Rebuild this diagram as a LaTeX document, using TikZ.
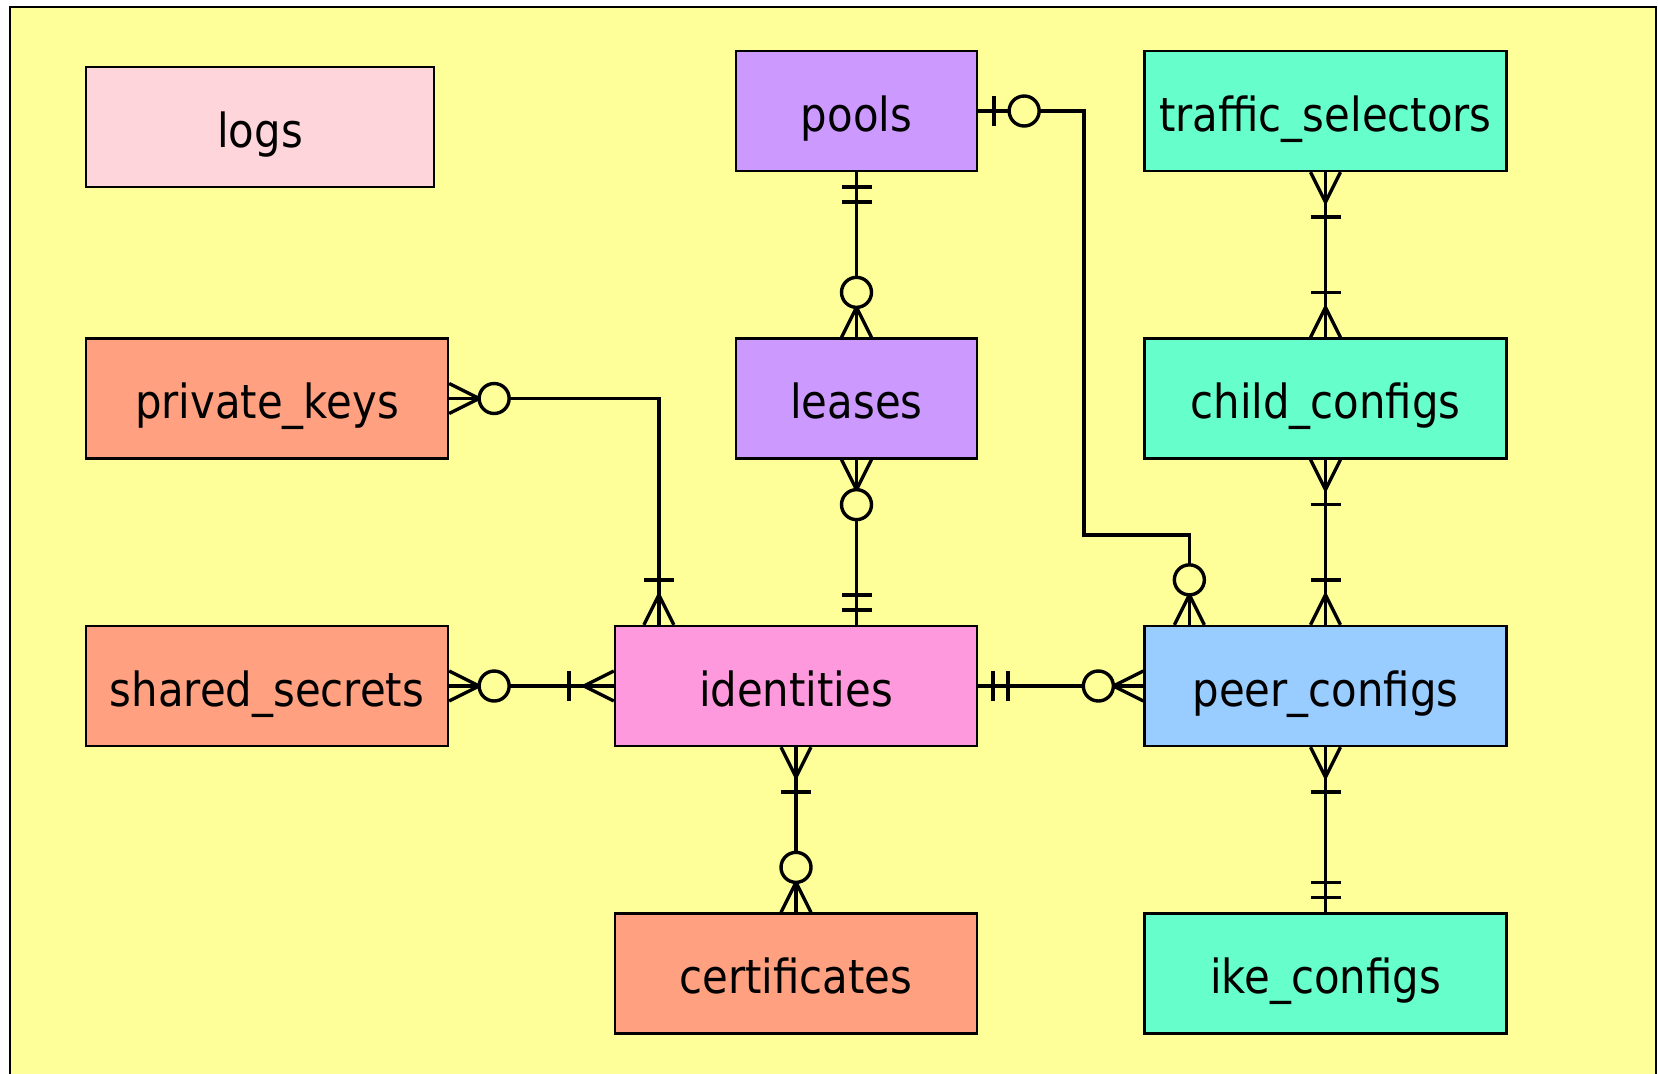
\documentclass[tikz,border=0pt]{standalone}
\usepackage{fontspec}
\setmainfont[FakeStretch=0.89]{DejaVu Sans}
\usetikzlibrary{calc}

\definecolor{bgyellow}{HTML}{FFFF99}
\definecolor{logpink}{HTML}{FFD5DC}
\definecolor{poolviolet}{HTML}{CC99FF}
\definecolor{cfggreen}{HTML}{66FFCC}
\definecolor{credsalmon}{HTML}{FFA080}
\definecolor{idpink}{HTML}{FF99DD}
\definecolor{peerblue}{HTML}{99CCFF}

\tikzset{
  entity/.style={draw=black, line width=2.3pt, inner sep=0pt,
    minimum height=120pt, text height=44pt, text depth=4pt,
    font=\fontsize{47}{50}\selectfont},
  narrowbox/.style={entity, minimum width=241pt},
  widebox/.style={entity, minimum width=362pt},
  conn/.style={line width=3.4pt, draw=black},
}

% Crow's-foot end marks: #1 = point on the box edge, #2 = direction pointing away from the box
\newcommand{\zeromany}[2]{%
  \begin{scope}[shift={(#1)}, rotate=#2]
    \draw[conn] (0,15) -- (30,0) -- (0,-15);
    \draw[conn, fill=bgyellow] (45,0) circle[radius=15pt];
  \end{scope}}
\newcommand{\onemany}[2]{%
  \begin{scope}[shift={(#1)}, rotate=#2]
    \draw[conn] (0,15) -- (30,0) -- (0,-15);
    \draw[conn] (45,15) -- (45,-15);
  \end{scope}}
\newcommand{\mandone}[2]{%
  \begin{scope}[shift={(#1)}, rotate=#2]
    \draw[conn] (15,15) -- (15,-15);
    \draw[conn] (30,15) -- (30,-15);
  \end{scope}}
\newcommand{\zeroone}[2]{%
  \begin{scope}[shift={(#1)}, rotate=#2]
    \draw[conn] (16,15) -- (16,-15);
    \draw[conn, fill=bgyellow] (46,0) circle[radius=15pt];
  \end{scope}}

\begin{document}
\begin{tikzpicture}[x=1pt, y=-1pt]
  \useasboundingbox (0,0) rectangle (1658,1074);
  \clip (0,0) rectangle (1658,1074);
  % frame
  \draw[line width=2.3pt, fill=bgyellow] (10,7) rectangle (1656,1100);

  % tables
  \node[entity, minimum width=348pt, fill=logpink] (logs) at (260,127) {logs};
  \node[narrowbox, fill=poolviolet] (pools) at (856.5,111) {pools};
  \node[widebox, fill=cfggreen] (traffic) at (1325.5,111) {traffic\_selectors};
  \node[widebox, fill=credsalmon] (privkeys) at (267,398.5) {private\_keys};
  \node[narrowbox, fill=poolviolet] (leases) at (856.5,398.5) {leases};
  \node[widebox, fill=cfggreen] (child) at (1325.5,398.5) {child\_configs};
  \node[widebox, fill=credsalmon] (shared) at (267,686) {shared\_secrets};
  \node[widebox, fill=idpink] (identities) at (796,686) {identities};
  \node[widebox, fill=peerblue] (peer) at (1325.5,686) {peer\_configs};
  \node[widebox, fill=credsalmon] (certs) at (796,973.5) {certificates};
  \node[widebox, fill=cfggreen] (ike) at (1325.5,973.5) {ike\_configs};

  % off-centre attachment points
  \coordinate (peertop) at ($(peer.north west)+(46,0)$);
  \coordinate (idtop) at ($(identities.north west)+(45,0)$);
  \coordinate (idlease) at (leases.south |- identities.north);

  % relations
  \draw[conn] (pools.south) -- (leases.north);
  \mandone{pools.south}{-90}
  \zeromany{leases.north}{90}

  \draw[conn] (leases.south) -- (idlease);
  \zeromany{leases.south}{-90}
  \mandone{idlease}{90}

  \draw[conn] (pools.east) -- ++(106,0) |- ($(peertop)+(0,-90)$) -- (peertop);
  \zeroone{pools.east}{0}
  \zeromany{peertop}{90}

  \draw[conn] (privkeys.east) -| (idtop);
  \zeromany{privkeys.east}{0}
  \onemany{idtop}{90}

  \draw[conn] (shared.east) -- (identities.west);
  \zeromany{shared.east}{0}
  \onemany{identities.west}{180}

  \draw[conn] (identities.east) -- (peer.west);
  \mandone{identities.east}{0}
  \zeromany{peer.west}{180}

  \draw[conn] (identities.south) -- (certs.north);
  \onemany{identities.south}{-90}
  \zeromany{certs.north}{90}

  \draw[conn] (traffic.south) -- (child.north);
  \onemany{traffic.south}{-90}
  \onemany{child.north}{90}

  \draw[conn] (child.south) -- (peer.north);
  \onemany{child.south}{-90}
  \onemany{peer.north}{90}

  \draw[conn] (peer.south) -- (ike.north);
  \onemany{peer.south}{-90}
  \mandone{ike.north}{90}
\end{tikzpicture}
\end{document}
